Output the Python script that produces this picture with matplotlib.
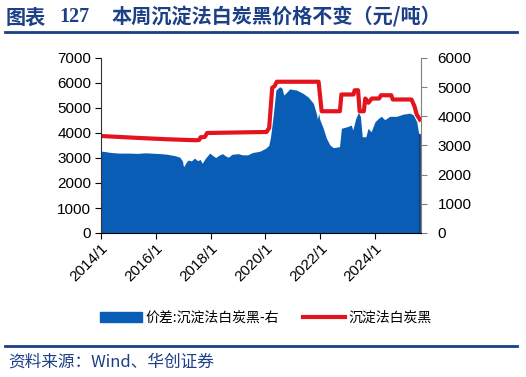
import matplotlib
matplotlib.use("Agg")
import matplotlib.pyplot as plt
from matplotlib.patches import Patch
from matplotlib.lines import Line2D
import pandas as pd

plt.rcParams['font.family'] = ['Liberation Sans', 'Noto Sans CJK SC', 'DejaVu Sans']

title_a = "图表"
title_b = "127"
title_c = "本周沉淀法白炭黑价格不变（元/吨）"
source = "资料来源：Wind、华创证券"
label_area = "价差:沉淀法白炭黑-右"
label_line = "沉淀法白炭黑"

red_dates = ["2014-01-01", "2015-06-01", "2016-06-01", "2017-06-15", "2017-08-01", "2017-08-20",
             "2017-10-15", "2017-11-15", "2019-06-01", "2020-01-15", "2020-02-20", "2020-04-01",
             "2020-05-01", "2020-06-01", "2021-12-10", "2022-01-20", "2022-09-20", "2022-10-10",
             "2023-03-20", "2023-04-05", "2023-05-20", "2023-06-10", "2023-08-05", "2023-08-25",
             "2023-10-05", "2023-11-20", "2024-02-25", "2024-03-20", "2024-08-05", "2024-08-25",
             "2025-05-01", "2025-06-10", "2025-07-10", "2025-08-20"]
red_values = [3880, 3800, 3750, 3710, 3720, 3830,
              3840, 4000, 4030, 4040, 4200, 5810,
              5870, 6050, 6050, 4870, 4870, 5540,
              5540, 5710, 5710, 4870, 4870, 5380,
              5210, 5380, 5380, 5510, 5510, 5340,
              5340, 5070, 4740, 4540]

blue_dates = ["2014-01-01", "2014-03-01", "2014-05-15", "2014-09-01", "2015-01-01", "2015-05-01",
              "2015-08-15", "2016-01-01", "2016-03-15", "2016-06-01", "2016-09-15", "2016-11-15",
              "2016-12-20", "2017-01-05", "2017-01-25", "2017-02-15", "2017-03-10", "2017-04-20",
              "2017-06-01", "2017-07-10", "2017-08-15", "2017-09-10", "2017-10-20", "2017-12-20",
              "2018-02-01", "2018-03-10", "2018-05-01", "2018-06-10", "2018-07-20", "2018-08-25",
              "2018-10-15", "2019-01-01", "2019-03-01", "2019-05-10", "2019-07-15", "2019-10-15",
              "2020-01-01", "2020-02-15", "2020-03-10", "2020-04-15", "2020-05-20", "2020-07-10",
              "2020-08-10", "2020-09-01", "2020-10-01", "2020-11-20", "2021-02-20", "2021-05-15",
              "2021-07-25", "2021-10-01", "2021-11-10", "2021-11-25", "2021-12-10", "2021-12-25",
              "2022-02-10", "2022-03-25", "2022-05-10", "2022-06-25", "2022-09-15", "2022-10-10",
              "2022-12-20", "2023-02-20", "2023-03-10", "2023-04-20", "2023-05-25", "2023-06-20",
              "2023-07-15", "2023-09-01", "2023-10-01", "2023-11-10", "2024-01-01", "2024-02-15",
              "2024-03-25", "2024-05-10", "2024-07-15", "2024-10-15", "2025-01-10", "2025-04-10",
              "2025-05-25", "2025-07-10", "2025-08-01", "2025-08-20"]
blue_values = [2810, 2790, 2760, 2740, 2740, 2730,
               2750, 2730, 2720, 2700, 2650, 2600,
               2480, 2270, 2350, 2450, 2500, 2470,
               2570, 2480, 2520, 2390, 2550, 2740,
               2650, 2590, 2680, 2720, 2640, 2600,
               2700, 2720, 2680, 2680, 2760, 2800,
               2900, 3000, 3300, 4045, 4900, 5015,
               4960, 4730, 4800, 4940, 4900, 4790,
               4660, 4446, 4100, 3900, 4110, 3900,
               3590, 3246, 3017, 2925, 2960, 3590,
               3640, 3700, 3530, 3930, 4137, 4000,
               3300, 3300, 3590, 3470, 3815, 3930,
               4000, 3885, 4000, 4000, 4075, 4110,
               4050, 3815, 3470, 3360]

x_ticks = ["2014-01-01", "2016-01-01", "2018-01-01", "2020-01-01", "2022-01-01", "2024-01-01"]
x_tick_labels = ["2014/1", "2016/1", "2018/1", "2020/1", "2022/1", "2024/1"]
left_ticks = [0, 1000, 2000, 3000, 4000, 5000, 6000, 7000]
right_ticks = [0, 1000, 2000, 3000, 4000, 5000, 6000]

navy = "#1C3F86"
blue = "#0A5DB4"
red = "#E4141E"
cjk = ["Noto Sans CJK SC", "DejaVu Sans"]

fig = plt.figure(figsize=(5.26, 3.77), dpi=100)
ax = fig.add_axes([101/526, 1-233/377, 320/526, 175/377])
ax2 = ax.twinx()

rd = pd.to_datetime(red_dates)
bd = pd.to_datetime(blue_dates)

ax2.fill_between(bd, blue_values, 0, color=blue, linewidth=0)
ax2.plot([bd[-1], bd[-1]], [0, blue_values[-1]], color="#0B3A70", lw=1.2)
ax.plot(rd, red_values, color=red, lw=3)

ax.set_zorder(ax2.get_zorder() + 1)
ax.patch.set_visible(False)

ax.set_xlim(pd.Timestamp("2014-01-01"), pd.Timestamp("2025-09-05"))
ax.set_ylim(0, 7000)
ax2.set_ylim(0, 6000)
ax.set_yticks(left_ticks)
ax2.set_yticks(right_ticks)
ax.set_xticks(pd.to_datetime(x_ticks))
ax.set_xticklabels(x_tick_labels, rotation=45, ha="right", rotation_mode="anchor")

for a in (ax, ax2):
    a.spines["top"].set_visible(False)
    a.tick_params(labelsize=11, length=4, width=0.8, direction="out", colors="#000000")
ax.spines["left"].set_color("#333333")
ax.spines["bottom"].set_color("#000000")
ax.spines["right"].set_visible(False)
ax2.spines["left"].set_visible(False)
ax2.spines["bottom"].set_visible(False)
ax2.spines["right"].set_color("#808080")
ax.tick_params(axis="x", pad=2)
ax.tick_params(axis="y", pad=3)
ax2.tick_params(axis="y", pad=8, colors="#000000")
ax2.tick_params(axis="y", color="#808080")

ty = 1 - 17/377
fig.text(6/526, ty, title_a, fontsize=14.5, fontweight="bold", color=navy,
         family=cjk, va="center", ha="left")
fig.text(59/526, ty, title_b, fontsize=14.5, fontweight="bold", color=navy,
         family=["Liberation Serif", "DejaVu Serif"], va="center", ha="left")
fig.text(112/526, ty, title_c, fontsize=14.5, fontweight="bold", color=navy,
         family=cjk, va="center", ha="left")
fig.add_artist(Line2D([5/526, 517/526], [1-32/377, 1-32/377], color=navy, lw=2))
fig.add_artist(Line2D([5/526, 517/526], [1-345.5/377, 1-345.5/377], color=navy, lw=2))
fig.text(8/526, 1-362/377, source, fontsize=12, color=navy, style="italic",
         family=cjk, va="center", ha="left")

prop = {"family": cjk, "size": 10}
leg1 = fig.legend([Patch(facecolor=blue, edgecolor=blue)], [label_area], loc="center left",
                  bbox_to_anchor=(100/526, 1-318/377), frameon=False, prop=prop,
                  borderpad=0, borderaxespad=0, handlelength=3.0, handleheight=0.8,
                  handletextpad=0.25)
leg2 = fig.legend([Line2D([0], [0], color=red, lw=3)], [label_line], loc="center left",
                  bbox_to_anchor=(303/526, 1-318/377), frameon=False, prop=prop,
                  borderpad=0, borderaxespad=0, handlelength=3.0, handletextpad=0.25)

fig.savefig("out.png", dpi=100)
